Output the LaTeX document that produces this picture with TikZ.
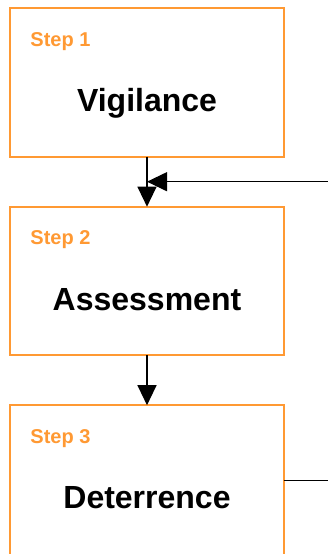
\documentclass[tikz,border=0pt]{standalone}
\usepackage{fontspec}
\setmainfont{Liberation Sans}
\usetikzlibrary{arrows.meta, positioning, calc}
\definecolor{stepOrange}{RGB}{255,153,51}

\begin{document}
\begin{tikzpicture}[
        x=1pt, y=1pt,
        stepbox/.style={draw=stepOrange, line width=2pt, rectangle, inner sep=0pt, outer sep=0pt,
                        minimum width=273.4pt, minimum height=148.5pt},
        steplbl/.style={text=stepOrange, font=\fontsize{20}{24}\selectfont\bfseries, inner sep=0pt, anchor=base west},
        mainlbl/.style={text=black, font=\fontsize{32}{38}\selectfont\bfseries, inner sep=0pt, anchor=base},
        flow/.style={draw=black, line width=1.2pt, -{Triangle[length=20pt, width=19pt]}},
        node distance=50pt
    ]
        \clip (0,0) rectangle (328,554);

        % Boxes
        \node [stepbox] (b1) at (147,471.55) {};
        \node [stepbox, below=of b1] (b2) {};
        \node [stepbox, below=of b2, minimum height=156pt] (b3) {};

        % Texts
        \node [steplbl] (s1) at ($(b1.north west)+(20,-38.3)$) {Step 1};
        \node [mainlbl] (t1) at ($(b1.north)+(0,-103.5)$) {Vigilance};
        \node [steplbl] (s2) at ($(b2.north west)+(20,-38.3)$) {Step 2};
        \node [mainlbl] (t2) at ($(b2.north)+(0,-103.5)$) {Assessment};
        \node [steplbl] (s3) at ($(b3.north west)+(20,-38.3)$) {Step 3};
        \node [mainlbl] (t3) at ($(b3.north)+(0,-103.5)$) {Deterrence};

        % Connectors
        \path (b1.south) -- coordinate[midway] (join) (b2.north);
        \coordinate (back) at ($(b2.south east)+(70,-125)$);
        \draw[flow] (b1.south) -- (b2.north);
        \draw[flow] (b2.south) -- (b3.north);
        \draw[flow] (b3.east |- back) -- (back) |- (join);
    \end{tikzpicture}
\end{document}
